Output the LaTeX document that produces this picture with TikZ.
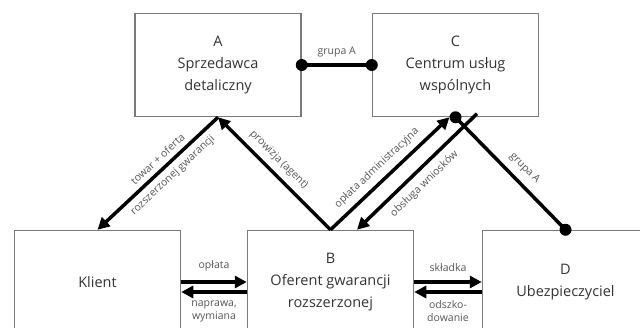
\documentclass[tikz,border=0pt]{standalone}
\usepackage{fontspec}
\setmainfont{Open Sans}
\usetikzlibrary{arrows.meta}
\definecolor{boxgray}{HTML}{7A7A7A}
\definecolor{txt}{HTML}{333333}
\definecolor{lbltxt}{HTML}{555555}
\begin{document}
\begin{tikzpicture}[x=1pt,y=-1pt,
 box/.style={draw=boxgray, line width=1.5pt, minimum width=166pt, minimum height=103pt, align=center, font=\fontsize{14.5}{22}\selectfont, text=txt, inner sep=0pt},
 conn/.style={line width=3.5pt, draw=black},
 arr/.style={conn, -{Triangle[length=12pt,width=12pt]}},
 rarr/.style={conn, {Triangle[length=12pt,width=12pt]}-},
 lbl/.style={font=\fontsize{10.5}{13}\selectfont, text=lbltxt, align=center, inner sep=0pt},
 dot/.style={circle, fill=black, minimum size=12pt, inner sep=0pt}
]
\useasboundingbox (0,0) rectangle (640,327);
\clip (0,0) rectangle (640,327);
\node[box] (A) at (218,65) {A\\Sprzedawca\\detaliczny};
\node[box] (C) at (455.5,65) {C\\Centrum usług\\wspólnych};
\node[box] (K) at (97.5,282) {Klient};
\node[box] (B) at (330.5,282) {B\\Oferent gwarancji\\rozszerzonej};
\node[box] (D) at (565.5,282) {D\\Ubezpieczyciel};

% A -- C
\draw[conn] (A.east) -- (C.west) node[lbl, midway, above=6pt] {grupa A};
\node[dot] (dA) at (A.east) {};
\node[dot] (dC) at (C.west) {};

% A -> Klient
\draw[rarr] (K.north) -- (A.south)
  node[lbl, pos=0.56, sloped, above=5pt] {towar + oferta}
  node[lbl, pos=0.56, sloped, below=5pt] {rozszerzonej gwarancji};
% B -> A
\draw[rarr] (A.south) -- (B.north)
  node[lbl, pos=0.46, sloped, above=6pt] {prowizja (agent)};
% B -> C
\draw[arr] (B.north) -- ([xshift=-6pt]C.south)
  node[lbl, pos=0.465, sloped, above=6pt] {opłata administracyjna};
% C -> B
\draw[rarr] ([xshift=26.5pt]B.north) -- ([xshift=21.5pt,yshift=3.5pt]C.south)
  node[lbl, pos=0.48, sloped, below=7pt] {obsługa wniosków};
% C -- D
\draw[conn] (C.south) -- (D.north)
  node[lbl, pos=0.54, sloped, above=7pt] {grupa A};
\node[dot] (dC2) at (C.south) {};
\node[dot] (dD) at (D.north) {};

% Klient <-> B
\draw[arr] (K.east) -- (B.west) node[lbl, midway, above=9pt] {opłata};
\draw[arr] ([yshift=-10pt]B.west) -- ([yshift=-10pt]K.east)
  node[lbl, midway, below=7pt] {naprawa,\\wymiana};
% B <-> D
\draw[arr] (B.east) -- (D.west) node[lbl, midway, above=9pt] {składka};
\draw[arr] ([yshift=-10pt]D.west) -- ([yshift=-10pt]B.east)
  node[lbl, midway, below=7pt] {odszko-\\dowanie};
\end{tikzpicture}
\end{document}
